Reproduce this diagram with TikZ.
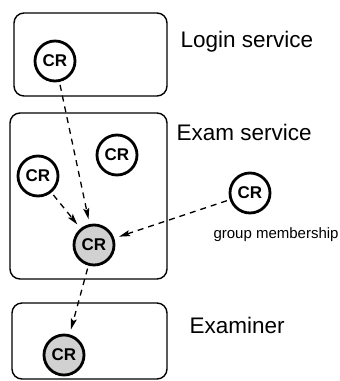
\documentclass[tikz,border=0pt]{standalone}
\usepackage{fontspec}
\setmainfont{Liberation Sans}
\usetikzlibrary{arrows.meta}
\begin{document}
\begin{tikzpicture}[x=1pt,y=-1pt,
  service/.style={draw, line width=1.4pt, rounded corners=10pt},
  cr/.style={circle, draw, line width=2.8pt, minimum size=40pt, inner sep=0pt,
             font=\fontsize{17}{17}\selectfont\bfseries},
  crshaded/.style={cr, fill=black!18},
  label/.style={anchor=base west, font=\fontsize{22.5}{22.5}\selectfont},
  small/.style={anchor=base west, font=\fontsize{15}{15}\selectfont},
  link/.style={draw, line width=1.3pt, dash pattern=on 6pt off 5pt,
               -{Stealth[length=11pt,width=6pt,inset=2pt]},
               shorten <=3pt, shorten >=5pt}]
  \useasboundingbox (0,0) rectangle (340,381);

  % service containers
  \draw[service] (14,13) rectangle (167,96);
  \draw[service] (10,113) rectangle (167,279);
  \draw[service] (12,303) rectangle (167,379);

  % container captions
  \node[label] (tlogin) at (177,47) {Login service};
  \node[label] (texam)  at (173,140) {Exam service};
  \node[label] (texaminer) at (186,333) {Examiner};

  % credentials
  \node[cr] (login) at (55,61) {CR};
  \node[cr] (left)  at (38,176) {CR};
  \node[cr] (top)   at (117,155) {CR};
  \node[crshaded] (exam) at (94,245) {CR};
  \node[cr] (group) at (250,193) {CR};
  \node[crshaded] (examiner) at (64,355) {CR};
  \node[small] (tgroup) at (210,238) {group membership};

  % delegation links
  \draw[link] (login) -- (exam);
  \draw[link] (left) -- (exam);
  \draw[link] (group) -- (exam);
  \draw[link] (exam) -- (examiner);
\end{tikzpicture}
\end{document}
